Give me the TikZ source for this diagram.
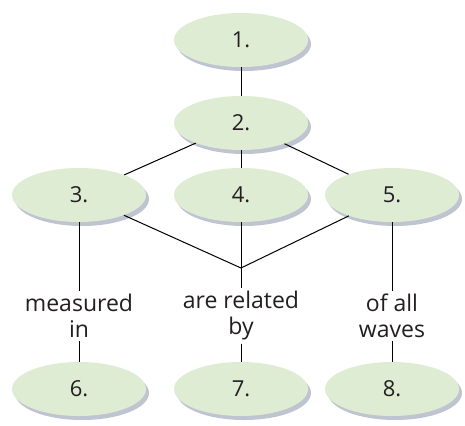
\documentclass[tikz,border=0pt]{standalone}
\usepackage{fontspec}
\setmainfont{Open Sans}
\usetikzlibrary{shapes.geometric,shadows}
\definecolor{bubblegreen}{RGB}{223,236,212}
\definecolor{shadowgray}{RGB}{140,150,170}
\definecolor{inkgray}{RGB}{35,31,32}

\begin{document}
\begin{tikzpicture}[x=1pt,y=-1pt,
  bubble/.style={ellipse, fill=bubblegreen, minimum width=134pt, minimum height=54pt,
    inner sep=0pt, text=inkgray, font=\fontsize{22}{24}\selectfont,
    drop shadow={shadow xshift=3pt, shadow yshift=-4pt, fill=shadowgray, opacity=0.55}},
  linktext/.style={align=center, text=inkgray, font=\fontsize{23}{26}\selectfont, inner sep=3pt},
  link/.style={line width=1pt}]
\useasboundingbox (0,0) rectangle (465,425);
\fill[white] (0,0) rectangle (465,425);

% concept bubbles
\node[bubble] (n1) at (241,40) {1.};
\node[bubble] (n2) at (241,123) {2.};
\node[bubble] (n3) at (79,195) {3.};
\node[bubble] (n4) at (241,195) {4.};
\node[bubble] (n5) at (392,195) {5.};
\node[bubble] (n6) at (79,389) {6.};
\node[bubble] (n7) at (241,389) {7.};
\node[bubble] (n8) at (392,389) {8.};

% linking words
\node[linktext] (measured) at (79,316) {measured\\in};
\node[linktext] (related) at (241,316) {are related\\by};
\node[linktext] (waves) at (392,316) {of all\\waves};
\coordinate (join) at (241,268);

\draw[link] (n1) -- (n2);
\draw[link] (n2) -- (n3);
\draw[link] (n2) -- (n4);
\draw[link] (n2) -- (n5);
\draw[link] (n3) -- (join) -- (n5);
\draw[link] (n4) -- (related) -- (n7);
\draw[link] (n3) -- (measured) -- (n6);
\draw[link] (n5) -- (waves) -- (n8);
\end{tikzpicture}
\end{document}
